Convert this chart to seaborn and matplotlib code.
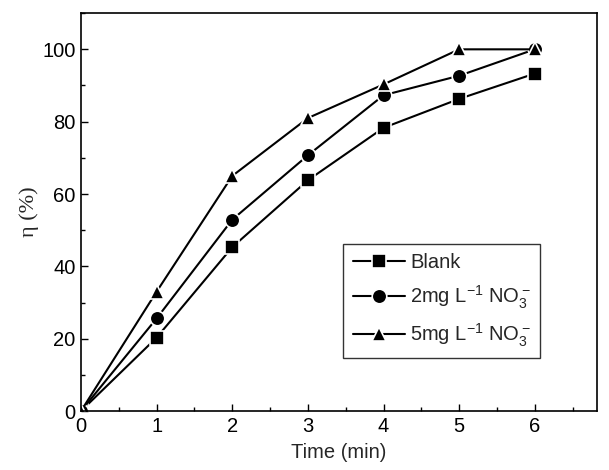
import matplotlib
matplotlib.use("Agg")
import matplotlib.pyplot as plt
import seaborn as sns
import pandas as pd
from matplotlib.ticker import MultipleLocator

sns.set_theme(style="ticks")
plt.rcParams["font.family"] = ["Liberation Sans", "DejaVu Sans"]
plt.rcParams["mathtext.default"] = "regular"

time_min = [0, 1, 2, 3, 4, 5, 6]
blank = [0, 20.3, 45.3, 63.8, 78.3, 86.3, 93.3]
no3_2mg = [0, 25.6, 52.9, 70.7, 87.3, 92.7, 100.0]
no3_5mg = [0, 33.0, 65.0, 81.0, 90.3, 100.0, 100.0]
labels = ["Blank", r"2mg L$^{-1}$ NO$_3^-$", r"5mg L$^{-1}$ NO$_3^-$"]

rows = []
for lbl, vals in zip(labels, [blank, no3_2mg, no3_5mg]):
    for t, v in zip(time_min, vals):
        rows.append({"Time": t, "eta": v, "series": lbl})
df = pd.DataFrame(rows)

fig = plt.figure(figsize=(6.09, 4.70), dpi=100)
ax = fig.add_axes([0.133, 0.1255, 0.847, 0.8465])

sns.lineplot(data=df, x="Time", y="eta", hue="series", style="series",
             markers=["s", "o", "^"], dashes=False, ax=ax,
             palette=["black"] * 3, linewidth=1.5, markersize=10.5,
             markeredgecolor="white", markeredgewidth=1.2)

ax.set_xlim(0, 6.82)
ax.set_ylim(0, 110)
ax.xaxis.set_major_locator(MultipleLocator(1))
ax.xaxis.set_minor_locator(MultipleLocator(0.5))
ax.yaxis.set_major_locator(MultipleLocator(20))
ax.yaxis.set_minor_locator(MultipleLocator(10))
ax.tick_params(which="both", direction="in", top=False, right=False,
               labelsize=14.5, colors="black")
ax.tick_params(which="major", length=5, width=1, pad=4)
ax.tick_params(which="minor", length=3, width=1)
for s in ax.spines.values():
    s.set_linewidth(1.2)
    s.set_color("black")

ax.set_xlabel("Time (min)", fontsize=14.5, labelpad=5)
ax.set_ylabel("η (%)", fontsize=16, family=["Liberation Serif", "DejaVu Serif"],
              labelpad=2)

leg = ax.legend(loc="lower right", bbox_to_anchor=(0.89, 0.133), frameon=True,
                fancybox=False, edgecolor="black", fontsize=14.5,
                handlelength=2.6, handletextpad=0.25, labelspacing=0.55,
                borderpad=0.45, borderaxespad=0)
leg.get_frame().set_linewidth(1.0)

fig.savefig("out.png", dpi=100)
